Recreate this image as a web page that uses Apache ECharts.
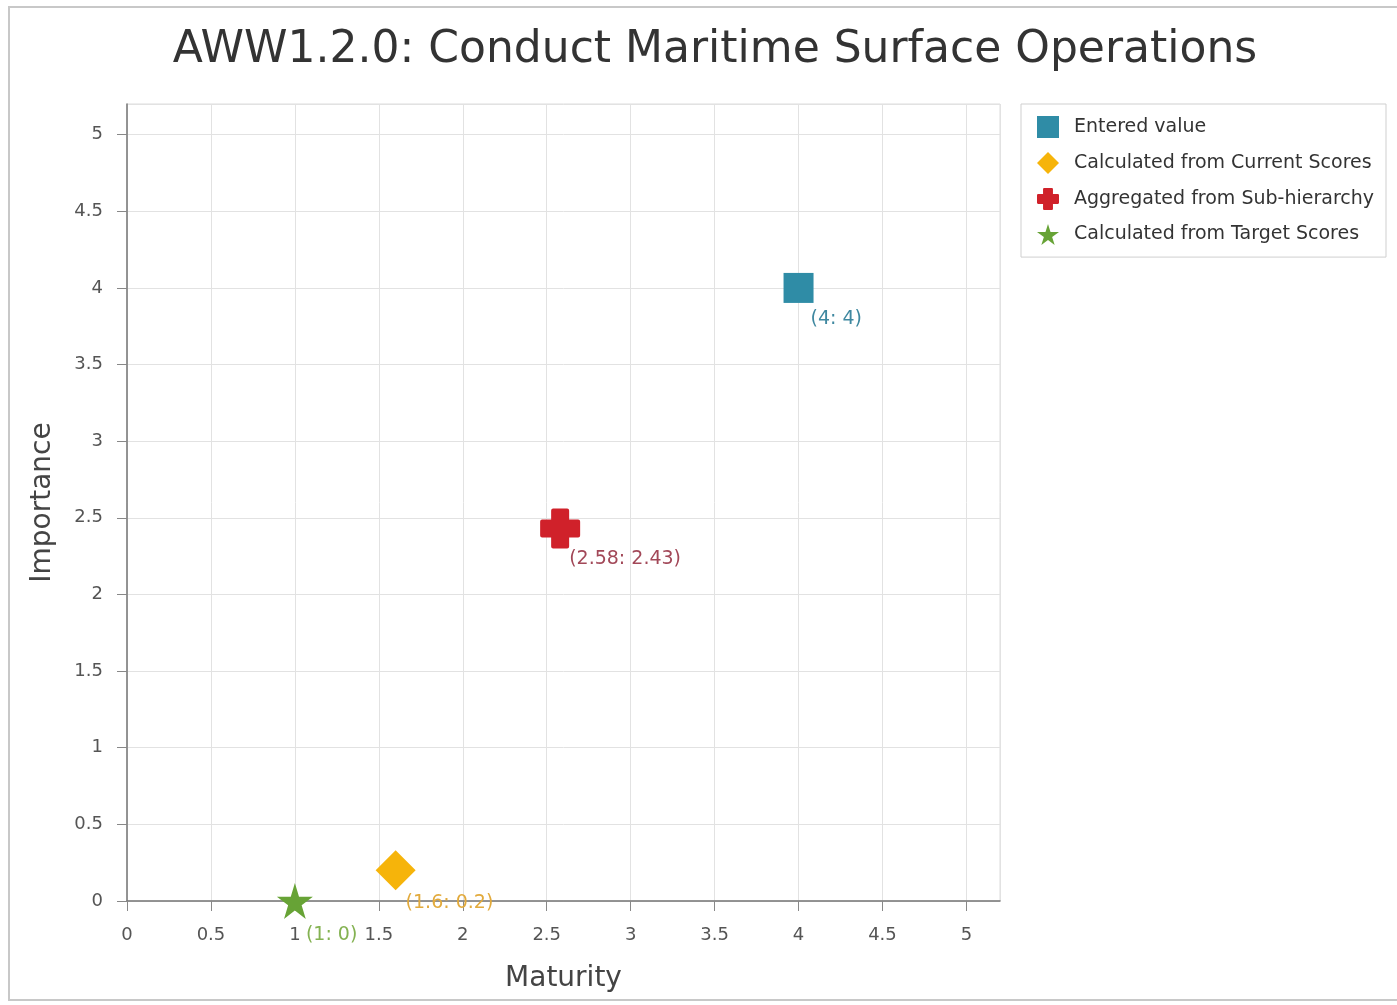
<!DOCTYPE html>
<html>
<head>
<meta charset="utf-8">
<script src="https://cdn.jsdelivr.net/npm/echarts@6/dist/echarts.min.js"></script>
<style>
  html, body { margin: 0; padding: 0; background: #fff; }
  #chart { width: 1397px; height: 1005px; }
</style>
</head>
<body>
<div id="chart"></div>
<script>
// 数据
var seriesNames = ['Entered value', 'Calculated from Current Scores', 'Aggregated from Sub-hierarchy', 'Calculated from Target Scores'];
var enteredValue = [[4, 4]];
var currentScores = [[1.6, 0.2]];
var subHierarchy = [[2.58, 2.43]];
var targetScores = [[1, 0]];

(function() {
  var myChart = echarts.init(document.getElementById('chart'));

  var font = 'DejaVu Sans';
  // 十字和星形图标
  var plusPath = 'path://M11,2 Q11,0 13,0 H27 Q29,0 29,2 V11 H38 Q40,11 40,13 V27 Q40,29 38,29 H29 V38 Q29,40 27,40 H13 Q11,40 11,38 V29 H2 Q0,29 0,27 V13 Q0,11 2,11 H11 Z';
  var starPath = 'path://M50,0 L61,35 L98,35 L68,57 L79,92 L50,70 L21,92 L32,57 L2,35 L39,35 Z';

  function pointLabel(color, pos) {
    return {
      show: true,
      position: pos,
      align: 'left',
      verticalAlign: 'middle',
      color: color,
      fontFamily: font,
      fontSize: 19,
      formatter: function(p) { return '(' + p.value[0] + ': ' + p.value[1] + ')'; }
    };
  }

  var option = {
    animation: false,
    title: {
      text: 'AWW1.2.0: Conduct Maritime Surface Operations',
      left: 710,
      top: 24,
      textAlign: 'center',
      textStyle: { color: '#333', fontFamily: font, fontSize: 44, fontWeight: 'normal' }
    },
    graphic: [{
      type: 'rect',
      shape: { x: 9, y: 7, width: 1400, height: 993 },
      style: { fill: 'none', stroke: '#c8c8c8', lineWidth: 2 },
      silent: true
    }],
    legend: {
      orient: 'vertical',
      left: 1021,
      top: 104,
      padding: [12, 12, 12, 16],
      itemGap: 14,
      itemWidth: 22,
      itemHeight: 22,
      itemTextGap: 16,
      borderColor: '#cfcfcf',
      borderWidth: 1,
      backgroundColor: '#fff',
      textStyle: { color: '#333', fontFamily: font, fontSize: 19, padding: [0, 0, 0, 10] },
      data: seriesNames
    },
    grid: {
      left: 127,
      right: 397,
      top: 104,
      bottom: 104,
      show: true,
      borderColor: '#dcdcdc',
      borderWidth: 1
    },
    xAxis: {
      type: 'value',
      min: 0,
      max: 5.2,
      interval: 0.5,
      name: 'Maturity',
      nameLocation: 'middle',
      nameGap: 64,
      nameTextStyle: { color: '#444', fontFamily: font, fontSize: 28 },
      axisLine: { lineStyle: { color: '#777', width: 1.5 } },
      axisTick: { show: true, length: 10, lineStyle: { color: '#888' } },
      axisLabel: {
        color: '#555', fontFamily: font, fontSize: 18, margin: 25,
        showMaxLabel: false,
        formatter: function(v) { return v; }
      },
      splitLine: { show: true, lineStyle: { color: '#e2e2e2' } }
    },
    yAxis: {
      type: 'value',
      min: 0,
      max: 5.2,
      interval: 0.5,
      name: 'Importance',
      nameLocation: 'middle',
      nameGap: 70,
      nameTextStyle: { color: '#444', fontFamily: font, fontSize: 28 },
      axisLine: { show: true, lineStyle: { color: '#777', width: 1.5 } },
      axisTick: { show: true, length: 10, lineStyle: { color: '#888' } },
      axisLabel: {
        color: '#555', fontFamily: font, fontSize: 18, margin: 24,
        showMaxLabel: false,
        formatter: function(v) { return v; }
      },
      splitLine: { show: true, lineStyle: { color: '#e2e2e2' } }
    },
    series: [
      {
        name: seriesNames[0],
        type: 'scatter',
        symbol: 'rect',
        symbolSize: 30,
        itemStyle: { color: '#2f8ca6', opacity: 1 },
        label: pointLabel('#3f88a0', [27, 46]),
        data: enteredValue
      },
      {
        name: seriesNames[1],
        type: 'scatter',
        symbol: 'diamond',
        symbolSize: 40,
        itemStyle: { color: '#f6b40a', opacity: 1 },
        label: pointLabel('#e2aa3c', [30, 53]),
        data: currentScores
      },
      {
        name: seriesNames[2],
        type: 'scatter',
        symbol: plusPath,
        symbolSize: 40,
        itemStyle: { color: '#d0212a', opacity: 1 },
        label: pointLabel('#a24858', [29, 51]),
        data: subHierarchy
      },
      {
        name: seriesNames[3],
        type: 'scatter',
        symbol: starPath,
        symbolSize: 36,
        itemStyle: { color: '#67a336', opacity: 1 },
        label: pointLabel('#84b252', [29, 52]),
        data: targetScores
      }
    ]
  };

  myChart.setOption(option);
})();
</script>
</body>
</html>
